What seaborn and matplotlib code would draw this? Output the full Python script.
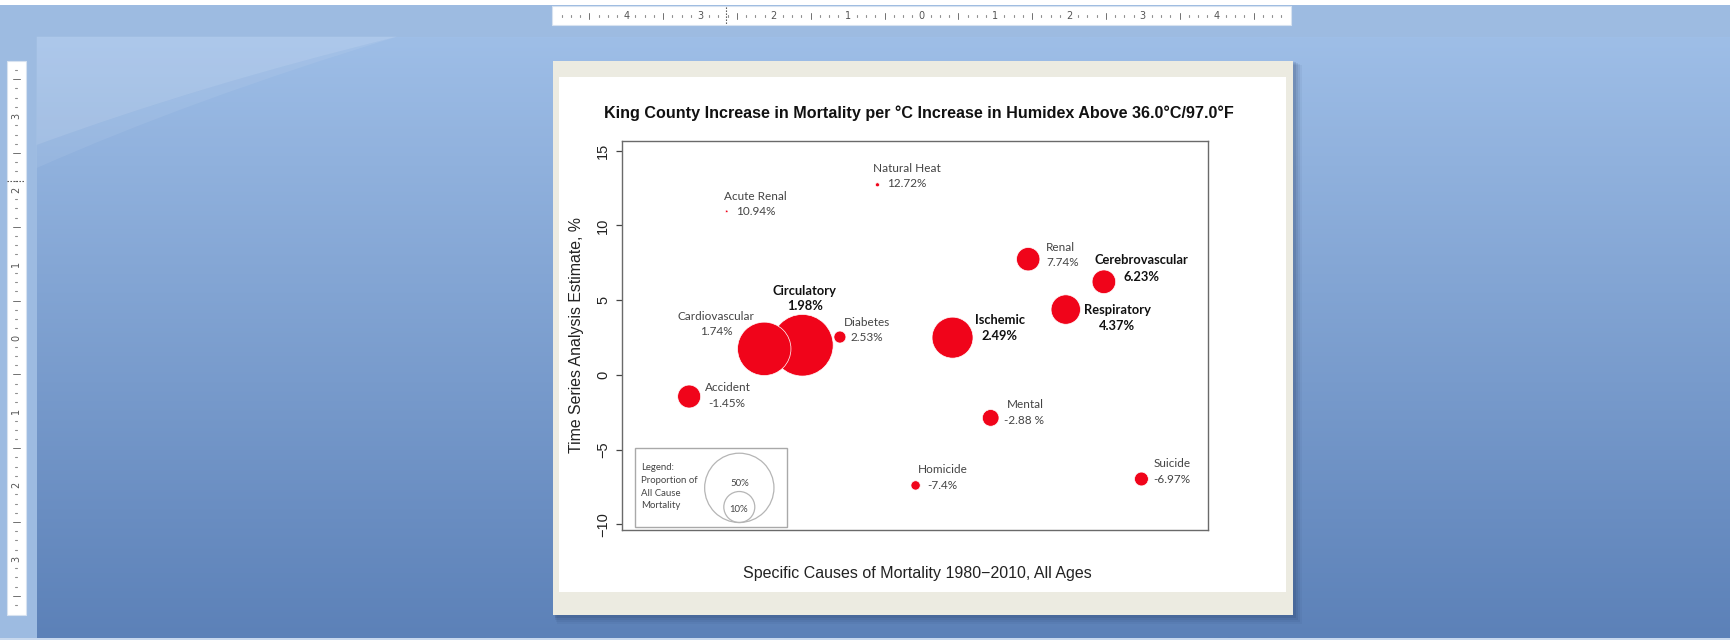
import numpy as np
import pandas as pd
import matplotlib
matplotlib.use("Agg")
import matplotlib.pyplot as plt
import seaborn as sns
from matplotlib.patches import Rectangle, Circle, PathPatch
from matplotlib.path import Path

# ---------------- data ----------------
causes = ["Circulatory", "Cardiovascular", "Ischemic", "Respiratory", "Renal",
          "Cerebrovascular", "Accident", "Mental", "Suicide", "Diabetes",
          "Homicide", "Natural Heat", "Acute Renal"]
position = [30.8, 24.3, 56.4, 75.7, 69.3, 82.2, 11.5, 62.9, 88.6, 37.2, 50.1, 43.6, 17.9]
estimate = [1.98, 1.74, 2.49, 4.37, 7.74, 6.23, -1.45, -2.88, -6.97, 2.53, -7.4, 12.72, 10.94]
proportion = [0.395, 0.297, 0.175, 0.090, 0.057, 0.058, 0.055, 0.029, 0.020, 0.015,
              0.009, 0.0017, 0.0007]
value_labels = ["1.98%", "1.74%", "2.49%", "4.37%", "7.74%", "6.23%", "-1.45%",
                "-2.88 %", "-6.97%", "2.53%", "-7.4%", "12.72%", "10.94%"]
highlight = [True, False, True, True, False, True, False, False, False, False,
             False, False, False]
legend_props = [0.50, 0.10]
legend_labels = ["50%", "10%"]
yticks = [-10, -5, 0, 5, 10, 15]

df = pd.DataFrame({"cause": causes, "position": position, "estimate": estimate,
                   "proportion": proportion})

# ---------------- layout / style ----------------
W, H, DPI = 1730, 640, 100
K = 49.0  # px radius for proportion 1.0 (sqrt scale)
RED = "#f0041a"
# label offsets in px: (name dx, name dy, value dx, value dy) relative to bubble centre (screen y down)
offsets = {
    "Circulatory": (2.4, -54.7, 2.7, -39),
    "Cardiovascular": (-48.3, -32.3, -47.6, -17),
    "Ischemic": (47.3, -17.7, 46.6, -1.4),
    "Respiratory": (51.3, 0.7, 51.3, 16.7),
    "Renal": (32.5, -12, 34, 3.4),
    "Cerebrovascular": (37.6, -22, 38, -5),
    "Accident": (38.6, -9, 37.9, 6.6),
    "Mental": (34.3, -13, 33.8, 2.4),
    "Suicide": (30.4, -15, 30.4, 0.7),
    "Diabetes": (27, -14.6, 27, 0.7),
    "Homicide": (27, -15.7, 27, -0.4),
    "Natural Heat": (29.5, -16, 29.5, -1),
    "Acute Renal": (28.8, -15, 28.8, 0),
}

sns.set_theme(style="white")
plt.rcParams["font.family"] = ["Liberation Sans", "DejaVu Sans"]

fig = plt.figure(figsize=(W / DPI, H / DPI), dpi=DPI)
fig.patch.set_facecolor("#9dbbe1")

# ---------- window chrome (background axes in pixel coords) ----------
bg = fig.add_axes([0, 0, 1, 1], zorder=0)
bg.set_xlim(0, W)
bg.set_ylim(H, 0)
bg.axis("off")
bg.add_patch(Rectangle((0, 0), W, 5, color="white", lw=0))
# workspace gradient
grad = np.linspace(0, 1, 256)[:, None]
c_top = np.array([0x9e, 0xbe, 0xe7]) / 255
c_bot = np.array([0x5c, 0x81, 0xb8]) / 255
img = c_top[None, None, :] * (1 - grad[:, :, None]) + c_bot[None, None, :] * grad[:, :, None]
bg.imshow(img, extent=[36.7, W, 637.7, 36.7], aspect="auto", zorder=1)
bg.add_patch(Rectangle((0, 637.7), W, 3, color="#c9d9ee", lw=0, zorder=1))
# swoosh
verts = [(36.7, 36.7), (397, 36.7), (200, 85), (36.7, 145), (36.7, 36.7)]
codes = [Path.MOVETO, Path.LINETO, Path.CURVE3, Path.CURVE3, Path.CLOSEPOLY]
bg.add_patch(PathPatch(Path(verts, codes), facecolor="white", alpha=0.16, lw=0, zorder=2))
verts2 = [(397, 36.7), (200, 85), (36.7, 145), (36.7, 168), (190, 100), (397, 36.7)]
codes2 = [Path.MOVETO, Path.CURVE3, Path.CURVE3, Path.LINETO, Path.CURVE3, Path.CURVE3]
bg.add_patch(PathPatch(Path(verts2, codes2), facecolor="white", alpha=0.07, lw=0, zorder=2))

# horizontal ruler
RU = 73.8
bg.add_patch(Rectangle((552, 6), 1291 - 552, 19, facecolor="white", edgecolor="#d7e2f0", lw=0.8, zorder=3))
x0 = 921.4
for i in range(-40, 40):
    x = x0 + i / 8 * RU
    if x < 553 or x > 1289:
        continue
    if i % 8 == 0:
        bg.text(x, 15.8, str(abs(i // 8)), ha="center", va="center", fontsize=7, color="#555555",
                family=["DejaVu Sans"], zorder=4)
    elif i % 4 == 0:
        bg.plot([x, x], [12.5, 19], color="#707070", lw=0.7, zorder=4)
    else:
        bg.plot([x, x], [15.2, 16.6], color="#909090", lw=0.8, zorder=4)
bg.plot([726, 726], [7, 24], color="#404040", lw=0.8, ls=(0, (1.2, 1.5)), zorder=4)

# vertical ruler
bg.add_patch(Rectangle((7, 60.7), 18.5, 615 - 60.7, facecolor="white", edgecolor="#d7e2f0", lw=0.8, zorder=3))
y0 = 337.5
for i in range(-32, 32):
    y = y0 + i / 8 * RU
    if y < 62 or y > 613:
        continue
    if i % 8 == 0:
        bg.text(16.2, y, str(abs(i // 8)), ha="center", va="center", fontsize=7, color="#555555",
                rotation=90, family=["DejaVu Sans"], zorder=4)
    elif i % 4 == 0:
        bg.plot([12.5, 19.5], [y, y], color="#707070", lw=0.7, zorder=4)
    else:
        bg.plot([15.4, 16.8], [y, y], color="#909090", lw=0.8, zorder=4)
bg.plot([7, 25], [181, 181], color="#404040", lw=0.8, ls=(0, (1.2, 1.5)), zorder=4)

# slide with shadow
for k, a in [(9, 0.05), (7, 0.07), (5, 0.09), (3, 0.12)]:
    bg.add_patch(Rectangle((553.3 + k * 0.4, 61 + k * 0.4), 1292.7 - 553.3 + k * 0.6, 615 - 61 + k * 0.6,
                           facecolor="#1c2f55", alpha=a, lw=0, zorder=3))
bg.add_patch(Rectangle((553.3, 61), 1292.7 - 553.3, 615 - 61, facecolor="#ecebe1", lw=0, zorder=4))
bg.add_patch(Rectangle((559, 77.3), 1285.7 - 559, 592.3 - 77.3, facecolor="white", lw=0, zorder=5))

# ---------- chart ----------
L, R_, T, B = 621.7, 1208.3, 141.0, 529.5
ax = fig.add_axes([L / W, 1 - B / H, (R_ - L) / W, (B - T) / H], zorder=2)
ax.set_facecolor("white")
full_area = (2 * K * 72 / DPI) ** 2
sns.scatterplot(data=df, x="position", y="estimate", size="proportion",
                sizes=(0, full_area), size_norm=(0, 1), color=RED,
                edgecolor="white", linewidth=0.5, alpha=1, legend=False, ax=ax, zorder=3)
ax.set_xlim(0, 100)
ax.set_ylim(-10.35, 15.65)
ax.set_xticks([])
ax.set_yticks(yticks)
ax.set_yticklabels([str(t).replace("-", "\u2212") for t in yticks])
ax.tick_params(axis="y", left=True, length=4.3, width=0.9, color="#444444", pad=4,
               labelsize=10.5, labelcolor="#222222", labelrotation=90)
for lab in ax.get_yticklabels():
    lab.set_va("center")
for s in ax.spines.values():
    s.set_color("#6a6a6a")
    s.set_linewidth(1.0)

ax.set_ylabel("Time Series Analysis Estimate, %", fontsize=11.4, color="#222222")
ax.yaxis.set_label_coords(-0.0767, 0.5006)
ax.yaxis.label.set_va("center")
ax.set_xlabel("Specific Causes of Mortality 1980\u22122010, All Ages", fontsize=11.5, color="#222222")
ax.xaxis.set_label_coords(0.504, -0.1138)
ax.xaxis.label.set_va("center")
ax.text(0.506, 1.0705, "King County Increase in Mortality per \u00b0C Increase in Humidex Above 36.0\u00b0C/97.0\u00b0F",
        transform=ax.transAxes, ha="center", va="center", fontsize=11.6, fontweight="bold", color="#111111")

LABFONT = ["Lato", "DejaVu Sans"]
for name, xv, yv, vl, hl in zip(causes, position, estimate, value_labels, highlight):
    ndx, ndy, vdx, vdy = offsets[name]
    col = "#111111" if hl else "#444444"
    fw = "bold" if hl else "normal"
    fs = 9.3 if hl else 8.5
    ax.annotate(name, (xv, yv), xytext=(ndx * 0.72, -ndy * 0.72), textcoords="offset points",
                ha="center", va="center", fontsize=fs, fontweight=fw, color=col, family=LABFONT, zorder=5)
    ax.annotate(vl, (xv, yv), xytext=(vdx * 0.72, -vdy * 0.72), textcoords="offset points",
                ha="center", va="center", fontsize=fs, fontweight=fw, color=col, family=LABFONT, zorder=5)

# ---------- legend box (overlay in pixel coords) ----------
ov = fig.add_axes([0, 0, 1, 1], zorder=4)
ov.set_xlim(0, W)
ov.set_ylim(H, 0)
ov.axis("off")
ov.patch.set_alpha(0)
ov.add_patch(Rectangle((635, 447.7), 786.7 - 635, 526.7 - 447.7, facecolor="white",
                       edgecolor="#a9a9a9", lw=1.0))
for i, line in enumerate(["Legend:", "Proportion of", "All Cause", "Mortality"]):
    ov.text(641, 467.3 + i * 12.9, line, ha="left", va="center", fontsize=6.9,
            color="#444444", family=LABFONT)
base = 522.5
for p, lab in zip(legend_props, legend_labels):
    r = K * np.sqrt(p)
    ov.add_patch(Circle((739.3, base - r), r, facecolor="none", edgecolor="#b5b5b5", lw=0.9))
ov.text(739.3, 483.3, legend_labels[0], ha="center", va="center", fontsize=6.9, color="#444444", family=LABFONT)
ov.text(738.3, 509.3, legend_labels[1], ha="center", va="center", fontsize=6.9, color="#444444", family=LABFONT)

fig.savefig("out.png", dpi=DPI)
